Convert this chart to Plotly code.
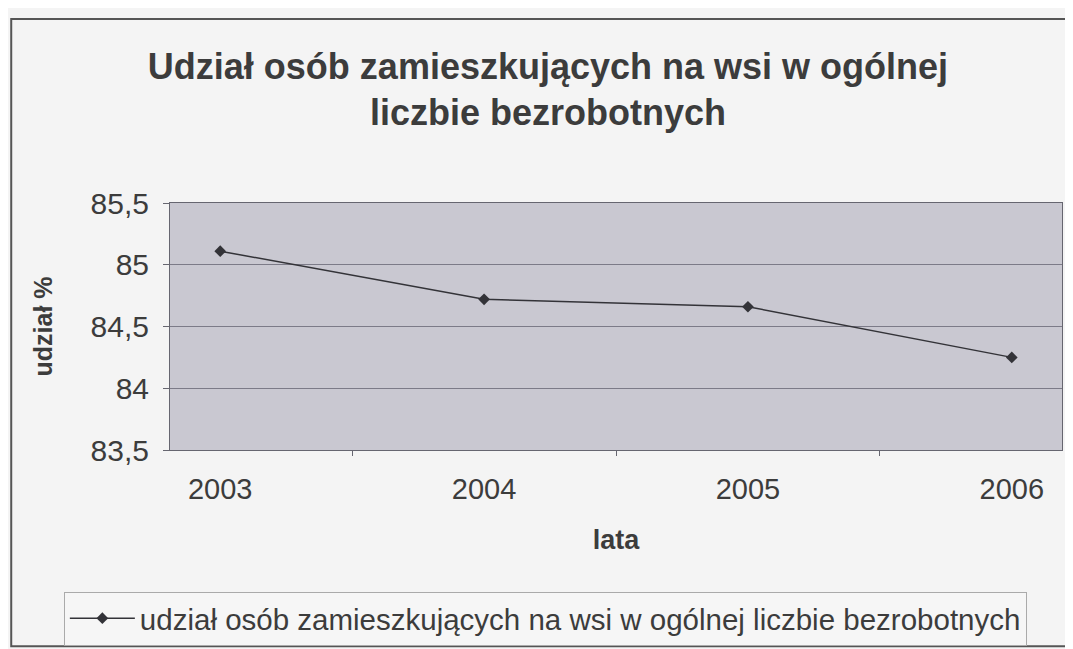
import plotly.graph_objects as go

# dane
lata = ["2003", "2004", "2005", "2006"]
udzial = [85.11, 84.72, 84.66, 84.25]

y_ticks = [83.5, 84.0, 84.5, 85.0, 85.5]
y_tick_labels = ["83,5", "84", "84,5", "85", "85,5"]

seria = "udział osób zamieszkujących na wsi w ogólnej liczbie bezrobotnych"
tytul = "Udział osób zamieszkujących na wsi w ogólnej<br>liczbie bezrobotnych"

FONT = "Liberation Sans, Arial, sans-serif"
TXT = "#3c3c3c"

fig = go.Figure()
fig.add_trace(go.Scatter(
    x=lata,
    y=udzial,
    mode="lines+markers",
    name=seria,
    line=dict(color="#333338", width=1.5),
    marker=dict(symbol="diamond", size=9, color="#333338"),
))

# ramka całego wykresu (współrzędne względem obszaru wykresu)
fig.add_shape(
    type="rect", xref="paper", yref="paper",
    x0=-0.178, x1=1.012, y0=-0.795, y1=1.745,
    line=dict(color="#555555", width=2), layer="below",
)

# strona ma 8px marginesu body, stąd 1065x641; marginesy stałe (legenda ich nie rozpycha)
fig.update_layout(
    width=1065,
    height=641,
    margin=dict(l=162, r=11, t=195, b=199, autoexpand=False),
    paper_bgcolor="#f4f4f4",
    plot_bgcolor="#c9c8d1",
    font=dict(family=FONT, color=TXT),
    title=dict(
        text=f"<b>{tytul}</b>",
        x=0.507, xanchor="center",
        y=0.89, yanchor="top",
        font=dict(size=36, color=TXT, family=FONT),
    ),
    showlegend=True,
    legend=dict(
        x=-0.119, xanchor="left",
        y=-0.573, yanchor="top",
        bgcolor="#f6f6f6",
        bordercolor="#aaaaaa",
        borderwidth=1,
        font=dict(size=29.5, color=TXT, family=FONT),
        itemwidth=65,
    ),
    xaxis=dict(
        type="category",
        title=dict(text="<b>lata</b>", font=dict(size=27, color=TXT), standoff=26),
        tickfont=dict(size=29, color=TXT),
        ticklabelstandoff=13,
        showgrid=False,
        showline=True, mirror=True, linecolor="#666670", linewidth=1,
        ticks="outside", ticklen=5, tickcolor="#666670",
        tickson="boundaries",
    ),
    yaxis=dict(
        range=[83.5, 85.5],
        tickvals=y_ticks,
        ticktext=y_tick_labels,
        title=dict(text="<b>udział %</b>", font=dict(size=25, color=TXT), standoff=30),
        tickfont=dict(size=30, color=TXT),
        ticklabelstandoff=8,
        showgrid=True, gridcolor="#7c7b88", gridwidth=1,
        showline=True, mirror=True, linecolor="#666670", linewidth=1,
        ticks="outside", ticklen=6, tickcolor="#666670",
        zeroline=False,
    ),
)

fig.write_html("out.html")
